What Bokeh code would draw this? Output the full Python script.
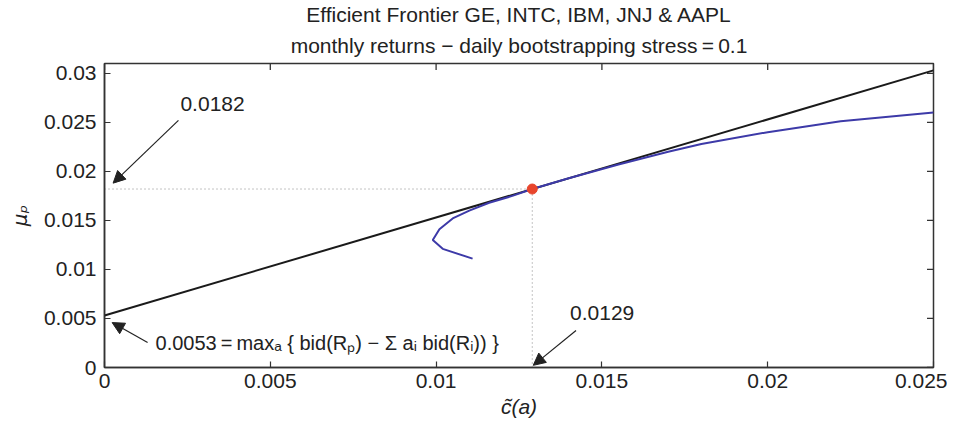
import math
from bokeh.plotting import figure
from bokeh.models import (Range1d, FixedTicker, Title, Label, Arrow, NormalHead)
from bokeh.embed import file_html
from bokeh.resources import INLINE

# ---- data ----
frontier_c = [0.0111, 0.0102, 0.0099, 0.0101, 0.0105, 0.0110, 0.0116, 0.0123,
              0.0129, 0.0140, 0.0155, 0.0170, 0.0180, 0.0200, 0.0222, 0.0250]
frontier_mu = [0.0111, 0.0121, 0.0130, 0.0141, 0.0152, 0.0160, 0.0168, 0.0175,
               0.0182, 0.0193, 0.0207, 0.0220, 0.0228, 0.0240, 0.0251, 0.0260]
tangent_c = [0.0, 0.025]
intercept = 0.0053
opt_c = 0.0129
opt_mu = 0.0182
slope = (opt_mu - intercept) / opt_c
tangent_mu = [intercept + slope * c for c in tangent_c]

x_min, x_max = 0.0, 0.025
y_min, y_max = 0.0, 0.031
x_ticks = [0, 0.005, 0.01, 0.015, 0.02, 0.025]
x_tick_labels = ["0", "0.005", "0.01", "0.015", "0.02", "0.025"]
y_ticks = [0, 0.005, 0.01, 0.015, 0.02, 0.025, 0.03]
y_tick_labels = ["0", "0.005", "0.01", "0.015", "0.02", "0.025", "0.03"]

title1 = "Efficient Frontier GE, INTC, IBM, JNJ & AAPL"
title2 = "monthly returns \u2212 daily bootstrapping stress\u2009=\u20090.1"
note_mu = "0.0182"
note_c = "0.0129"
note_int = "0.0053\u2009=\u2009max\u2090 { bid(R\u209a) \u2212 \u03a3 a\u1d62 bid(R\u1d62)) }"

FONT = "Liberation Sans"
TXT = "#222222"
AX = "#333333"

p = figure(width=947, height=420, output_backend="svg", toolbar_location=None,
           title=None, x_range=Range1d(x_min, x_max), y_range=Range1d(y_min, y_max),
           min_border_left=104, min_border_right=14, min_border_top=63,
           min_border_bottom=53)
p.xgrid.visible = False
p.ygrid.visible = False
p.outline_line_color = AX
p.outline_line_width = 1.5
p.background_fill_color = "white"
p.border_fill_color = "white"


def style_axis(ax, ticks, labels):
    ax.ticker = FixedTicker(ticks=ticks)
    ax.major_label_overrides = {t: l for t, l in zip(ticks, labels)}
    ax.major_tick_in = 6
    ax.major_tick_out = 0
    ax.minor_tick_line_color = None
    ax.axis_line_color = AX
    ax.axis_line_width = 1.5
    ax.major_tick_line_color = AX
    ax.major_tick_line_width = 1.2
    ax.major_label_text_font = FONT
    ax.major_label_text_color = TXT
    ax.major_label_text_font_size = "21px"


style_axis(p.xaxis[0], x_ticks, x_tick_labels)
style_axis(p.yaxis[0], y_ticks, y_tick_labels)
p.xaxis[0].major_label_standoff = 6
p.yaxis[0].major_label_standoff = 8
p.xaxis[0].axis_label = "c\u0303(a)"
p.xaxis[0].axis_label_text_font_style = "italic"
p.xaxis[0].axis_label_text_font = FONT
p.xaxis[0].axis_label_text_font_size = "21px"
p.xaxis[0].axis_label_text_color = TXT
p.xaxis[0].axis_label_standoff = 4
p.yaxis[0].axis_label = "\u03bc\u209a"
p.yaxis[0].axis_label_text_font_style = "italic"
p.yaxis[0].axis_label_text_font = "DejaVu Sans"
p.yaxis[0].axis_label_text_font_size = "20px"
p.yaxis[0].axis_label_text_color = TXT
p.yaxis[0].axis_label_standoff = 9

# inward tick marks on the top and right edges (dash markers clipped by the frame)
p.scatter(x_ticks, [y_max] * len(x_ticks), marker="dash", size=13,
          angle=math.pi / 2, line_color=AX, line_width=1.3)
p.scatter([x_max] * len(y_ticks), y_ticks, marker="dash", size=13,
          angle=0, line_color=AX, line_width=1.3)

for txt, so in ((title2, 13), (title1, 0)):
    p.add_layout(Title(text=txt, align="center", text_font=FONT,
                       text_font_size="21px", text_font_style="normal",
                       text_color=TXT, standoff=so, text_line_height=1.0), "above")

# dotted guide lines
p.line([0, opt_c], [opt_mu, opt_mu], line_color="#888888", line_dash="1 3",
       line_width=1)
p.line([opt_c, opt_c], [0, opt_mu], line_color="#888888", line_dash="1 3",
       line_width=1)

# tangent line and frontier
p.line(tangent_c, tangent_mu, line_color="#1a1a1a", line_width=2)
p.line(frontier_c, frontier_mu, line_color="#3d3aa8", line_width=2)
p.scatter([opt_c], [opt_mu], size=10, fill_color="#e8452c", line_color="#e8452c")


def arrow(x0, y0, x1, y1):
    p.add_layout(Arrow(end=NormalHead(size=12, fill_color="#222222",
                                      line_color="#222222"),
                       x_start=x0, y_start=y0, x_end=x1, y_end=y1,
                       line_color="#222222", line_width=1.2))


arrow(0.00223, 0.0252, 0.00026, 0.0188)
arrow(0.0013, 0.00255, 0.00023, 0.00458)
arrow(0.01422, 0.00378, 0.01293, 0.00022)

for x, y, t, fs in ((0.00229, 0.02684, note_mu, "21px"),
                    (0.00154, 0.00245, note_int, "20px"),
                    (0.01404, 0.00551, note_c, "21px")):
    p.add_layout(Label(x=x, y=y, text=t, text_font=FONT,
                       text_font_size=fs, text_color=TXT,
                       text_baseline="middle", text_align="left"))

open("out.html", "w").write(file_html(p, INLINE))
